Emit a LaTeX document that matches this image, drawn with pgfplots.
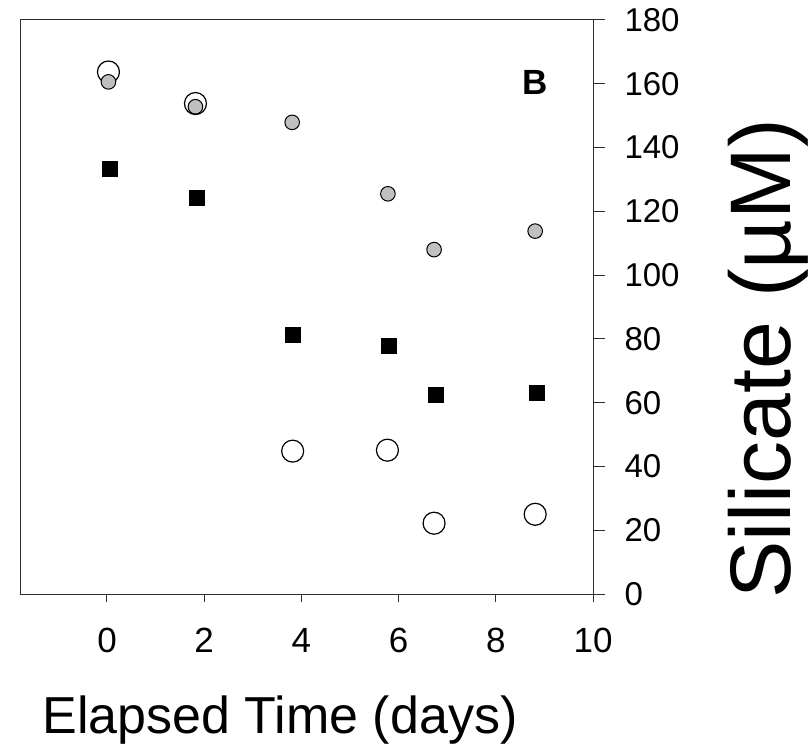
\documentclass[border=0pt]{standalone}
\usepackage{fontspec}
\setmainfont{Liberation Sans}
\usepackage{pgfplots}
\pgfplotsset{compat=1.18}
\definecolor{silv}{RGB}{192,192,192}
\definecolor{axgray}{RGB}{45,45,45}
\begin{document}
\begin{tikzpicture}
\useasboundingbox (-20bp,-158bp) rectangle (790bp,594bp);
\begin{axis}[
  at={(0,0)}, anchor=south west,
  scale only axis, width=573bp, height=574bp,
  xmin=-1.79, xmax=10, ymin=0, ymax=180,
  xtick={0,2,...,10}, ytick={0,20,...,180},
  xtick pos=bottom, ytick pos=right, yticklabel pos=right,
  tick align=outside,
  major tick length=12bp,
  xtick style={/pgfplots/major tick length=8bp},
  axis line style={axgray, line width=1bp},
  every tick/.style={axgray, line width=1bp},
  /pgf/number format/assume math mode=true,
  xticklabel style={font=\fontsize{35bp}{40bp}\selectfont, yshift=-19bp},
  yticklabel style={font=\fontsize{33bp}{38bp}\selectfont, anchor=west, xshift=16bp},
  clip=false,
]
% open circles
\addplot[only marks, mark=*, mark size=11bp,
  mark options={fill=white, draw=black, line width=1.2bp}]
  coordinates {(0.03,163.7) (1.82,153.8) (3.82,44.8) (5.77,45.1) (6.73,22.2) (8.81,25.0)};
% grey circles
\addplot[only marks, mark=*, mark size=7.3bp,
  mark options={fill=silv, draw=black, line width=1bp}]
  coordinates {(0.03,160.6) (1.82,152.8) (3.81,147.9) (5.78,125.5) (6.73,108.0) (8.81,113.8)};
% black squares
\addplot[only marks, mark=square*, mark size=7.5bp,
  mark options={fill=black, draw=black, line width=0.5bp}]
  coordinates {(0.05,133.2) (1.84,124.2) (3.83,81.2) (5.80,77.7) (6.76,62.6) (8.84,63.1)};
\end{axis}
\node[font=\fontsize{35bp}{40bp}\selectfont\bfseries] at (515bp,512bp) {B};
\node[font=\fontsize{52bp}{60bp}\selectfont, anchor=base] at (260bp,-139bp) {Elapsed Time (days)};
\node[font=\fontsize{86bp}{96bp}\selectfont, rotate=90, anchor=base] at (770bp,235bp) {Silicate (µM)};
\end{tikzpicture}
\end{document}
